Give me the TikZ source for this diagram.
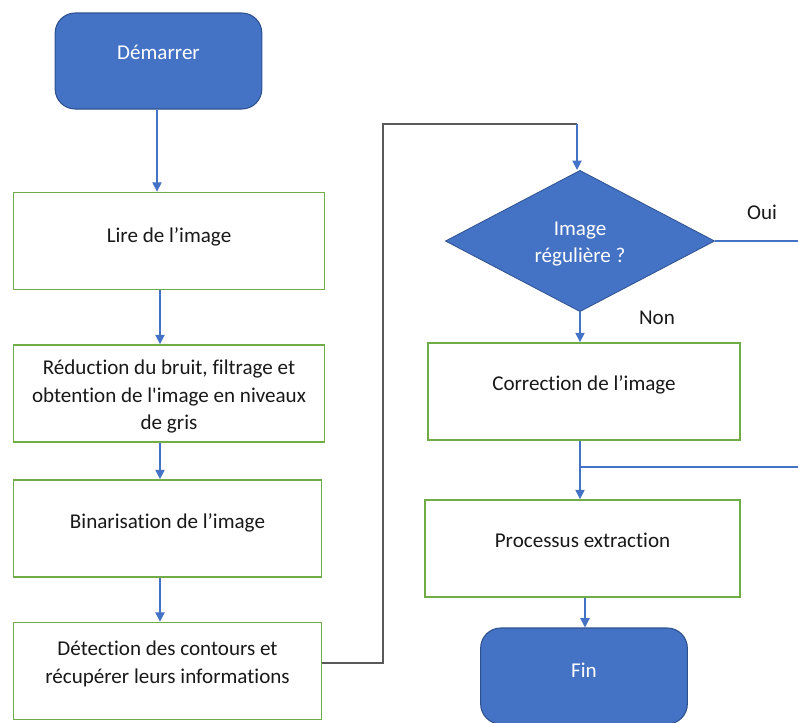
\documentclass[tikz,border=0pt]{standalone}
\usepackage{fontspec}
\setmainfont{Carlito}[Ligatures={NoCommon}]
\usetikzlibrary{arrows.meta,shapes.geometric,calc}
\definecolor{boxblue}{HTML}{4472C4}
\definecolor{boxedge}{HTML}{2F528F}
\definecolor{boxgreen}{HTML}{70AD47}
\definecolor{linkgray}{HTML}{595959}
\begin{document}
\begin{tikzpicture}[x=0.75pt,y=-0.75pt,
  txt/.style={font=\fontsize{15.8}{20.5}\selectfont,align=center,inner sep=0pt},
  terminal/.style={draw=boxedge,line width=0.8pt,fill=boxblue,rounded corners=15pt,
    minimum width=155pt,minimum height=72pt,inner sep=0pt},
  procbox/.style={draw=boxgreen,line width=1.1pt,fill=white,
    minimum width=233pt,minimum height=73pt,inner sep=0pt},
  decision/.style={diamond,draw=boxedge,line width=0.6pt,fill=boxblue,
    minimum width=202pt,minimum height=106pt,inner sep=0pt,aspect=1.9},
  wtxt/.style={txt,text=white},
  btxt/.style={txt,text=black!90},
  flow/.style={draw=boxblue,line width=0.9pt,-{Triangle[width=7pt,length=7pt]}},
  plain/.style={draw=boxblue,line width=0.9pt},
  link/.style={draw=linkgray,line width=0.9pt}]
\useasboundingbox (0,0) rectangle (798,722);

% left column: shapes
\node[terminal] (start) at (158.5,61) {};
\node[procbox] (lire) at (169,241) {};
\node[procbox] (reduc) at (169,393.5) {};
\node[procbox,minimum width=231pt] (binar) at (167.5,528.5) {};
\node[procbox,minimum width=231pt] (detect) at (167.5,671) {};

% right column: shapes
\node[decision] (dia) at (580,241) {};
\node[procbox,minimum width=234pt] (corr) at (584,391.5) {};
\node[procbox,minimum width=236pt] (proc) at (582.5,548.5) {};
\node[terminal] (fin) at (584,676) {};

% texts of the shapes
\node[wtxt] (start-t) at ($(start.center)+(0,-9)$) {Démarrer};
\node[btxt] (lire-t) at ($(lire.center)+(0,-4)$) {Lire de l’image};
\node[btxt] (reduc-t) at ($(reduc.center)+(0,3)$) {Réduction du bruit, filtrage et\\obtention de l\textquotesingle image en niveaux\\de gris};
\node[btxt] (binar-t) at ($(binar.center)+(0,-6)$) {Binarisation de l’image};
\node[btxt] (detect-t) at ($(detect.center)+(0,-7)$) {Détection des contours et\\récupérer leurs informations};
\node[wtxt] (dia-t) at ($(dia.center)+(0,3)$) {Image\\régulière ?};
\node[btxt] (corr-t) at ($(corr.center)+(0,-7)$) {Correction de l’image};
\node[btxt] (proc-t) at ($(proc.center)+(0,-8)$) {Processus extraction};
\node[wtxt] (fin-t) at ($(fin.center)+(0,-6)$) {Fin};

% guide coordinates for the connectors
\coordinate (colA) at (157,0);
\coordinate (colB) at (160,0);
\coordinate (colC) at (580,0);
\coordinate (colD) at (585,0);
\coordinate (outY) at (0,663);
\coordinate (bendL) at (383,663);
\coordinate (bendT) at (383,124);
\coordinate (topR) at (577,124);
\coordinate (edgeOui) at (798,241);
\coordinate (split) at (580,467);
\coordinate (edgeMerge) at (798,467);

\draw[flow] (start.south -| colA) -- (lire.north -| colA);
\draw[flow] (lire.south -| colB) -- (reduc.north -| colB);
\draw[flow] (reduc.south -| colB) -- (binar.north -| colB);
\draw[flow] (binar.south -| colB) -- (detect.north -| colB);

\draw[link] (detect.east |- outY) -- (bendL) -- (bendT) -- (topR);
\draw[flow] (topR) -- (topR |- dia.north);

\draw[plain] (dia.east) -- (edgeOui);
\node[btxt] (oui) at (762,212) {Oui};
\draw[flow] (dia.south) -- (corr.north -| dia.south);
\node[btxt] (non) at (657,318) {Non};

\draw[flow] (corr.south -| colC) -- (proc.north -| colC);
\draw[plain] (split) -- (edgeMerge);
\draw[flow] (proc.south -| colD) -- (fin.north -| colD);
\end{tikzpicture}
\end{document}
